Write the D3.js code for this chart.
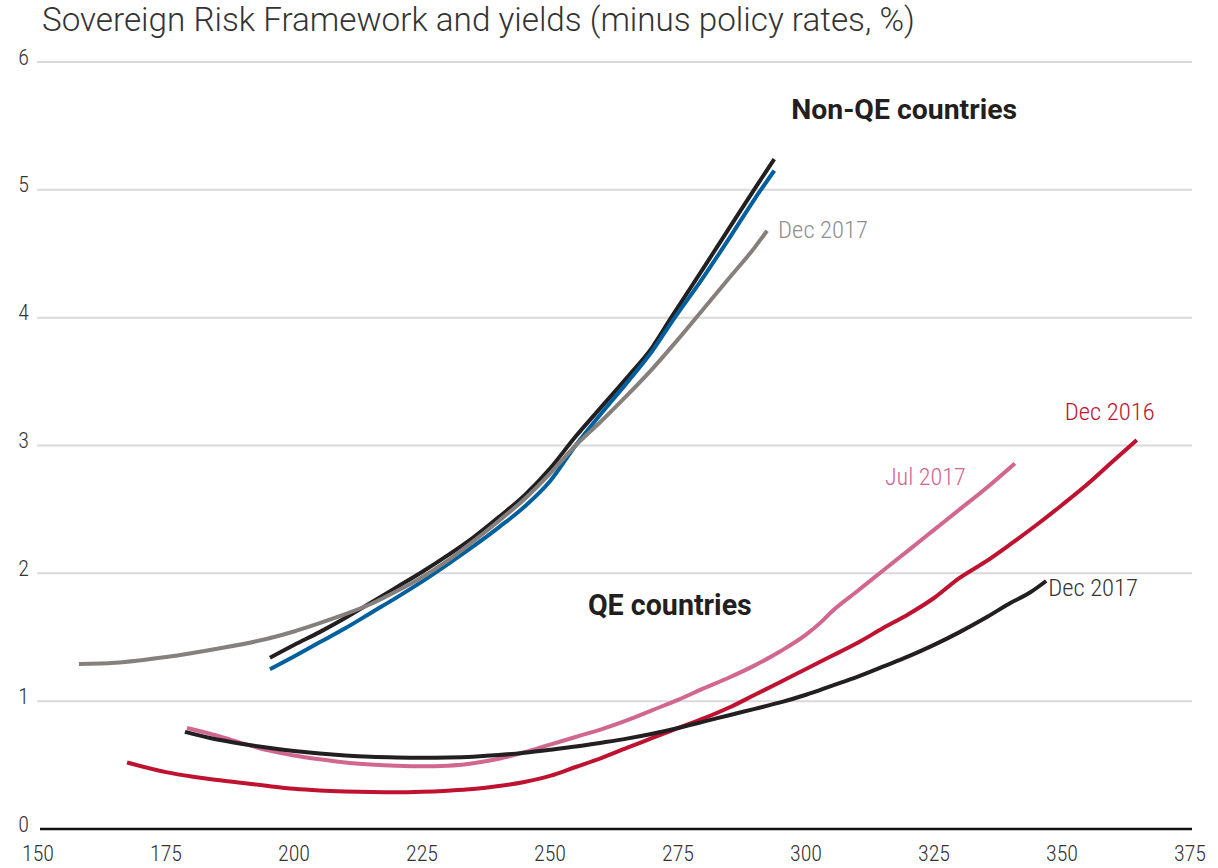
<!DOCTYPE html>
<html>
<head>
<meta charset="utf-8">
<script src="https://cdn.jsdelivr.net/npm/d3@7"></script>
<style>
  html, body { margin: 0; padding: 0; background: #ffffff; }
  svg { display: block; }
  .cond { font-family: Roboto, 'DejaVu Sans', sans-serif; font-weight: 300; font-stretch: condensed; }
  .light { font-family: Roboto, 'DejaVu Sans', sans-serif; font-weight: 300; }
  .heading { font-family: Roboto, 'DejaVu Sans', sans-serif; font-weight: 700; }
</style>
</head>
<body>
<svg id="chart" width="1218" height="868"></svg>
<script>
// Sovereign Risk Framework score (x) against yields minus policy rates (y, %)

const xTicks = [150, 175, 200, 225, 250, 275, 300, 325, 350, 375];
const yTicks = [0, 1, 2, 3, 4, 5, 6];

// Non-QE countries
const nonQeDec2017 = [
  [158, 1.29], [165, 1.30], [175, 1.345], [185, 1.41], [195, 1.49], [200, 1.545],
  [205, 1.61], [210, 1.68], [215, 1.76], [220, 1.86], [225, 1.97], [230, 2.10],
  [235, 2.25], [240, 2.41], [245, 2.58], [250, 2.78], [255, 3.00], [260, 3.19],
  [265, 3.39], [270, 3.60], [275, 3.83], [280, 4.07], [285, 4.31], [290, 4.55],
  [292.4, 4.68]
];
const nonQeBlack = [
  [195.3, 1.34], [200, 1.44], [205, 1.54], [210, 1.65], [215, 1.77], [220, 1.89],
  [225, 2.01], [230, 2.14], [235, 2.28], [240, 2.44], [245, 2.61], [250, 2.82],
  [255, 3.07], [260, 3.30], [265, 3.53], [270, 3.77], [273.5, 3.99], [280, 4.39],
  [285, 4.70], [290, 5.01], [293.8, 5.24]
];
const nonQeBlue = [
  [195.3, 1.25], [200, 1.35], [205, 1.46], [210, 1.57], [215, 1.69], [220, 1.81],
  [225, 1.935], [230, 2.07], [235, 2.21], [240, 2.36], [245, 2.52], [250, 2.72],
  [255, 3.00], [260, 3.25], [265, 3.49], [270, 3.74], [273.5, 3.95], [280, 4.32],
  [285, 4.62], [290, 4.93], [293.8, 5.15]
];

// QE countries
const qeJul2017 = [
  [179.1, 0.79], [185, 0.73], [190, 0.67], [195, 0.615], [200, 0.575], [205, 0.545],
  [210, 0.52], [215, 0.505], [220, 0.495], [225, 0.49], [230, 0.495], [235, 0.515],
  [240, 0.55], [245, 0.60], [250, 0.66], [255, 0.72], [260, 0.78], [265, 0.85],
  [270, 0.93], [275, 1.01], [280, 1.10], [285, 1.185], [290, 1.28], [295, 1.39],
  [300, 1.52], [303, 1.62], [305, 1.70], [310, 1.86], [315, 2.02], [320, 2.18],
  [325, 2.34], [330, 2.50], [335, 2.66], [340.8, 2.86]
];
const qeDec2016 = [
  [167.4, 0.52], [175, 0.445], [180, 0.41], [185, 0.383], [190, 0.36], [195, 0.336],
  [200, 0.315], [205, 0.302], [210, 0.294], [215, 0.289], [220, 0.287], [225, 0.291],
  [230, 0.300], [235, 0.313], [240, 0.336], [245, 0.368], [250, 0.415], [255, 0.485],
  [260, 0.555], [265, 0.634], [270, 0.712], [275, 0.79], [280, 0.865], [285, 0.95],
  [290, 1.05], [295, 1.15], [300, 1.252], [305, 1.353], [310, 1.455], [315, 1.57],
  [320, 1.68], [325, 1.807], [330, 1.964], [335, 2.089], [340, 2.23], [345, 2.378],
  [350, 2.535], [355, 2.699], [360, 2.879], [364.6, 3.043]
];
const qeDec2017 = [
  [178.7, 0.76], [185, 0.70], [190, 0.665], [195, 0.635], [200, 0.61], [205, 0.59],
  [210, 0.575], [215, 0.565], [220, 0.56], [225, 0.558], [230, 0.56], [235, 0.566],
  [240, 0.578], [245, 0.597], [250, 0.62], [255, 0.645], [260, 0.675], [265, 0.707],
  [270, 0.745], [275, 0.79], [280, 0.84], [285, 0.89], [290, 0.94], [295, 0.99],
  [300, 1.05], [305, 1.12], [310, 1.19], [315, 1.27], [320, 1.35], [325, 1.44],
  [330, 1.54], [335, 1.65], [340, 1.77], [343.75, 1.85], [346.9, 1.94]
];

const COLORS = {
  grey: "#85807d",
  greyText: "#8e8e8e",
  black: "#231f20",
  blue: "#00609e",
  pink: "#d1668e",
  red: "#be1230",
  grid: "#d9d9d9",
  text: "#333333"
};

const svg = d3.select("#chart");

const x = d3.scaleLinear().domain([150, 375]).range([38, 1190]);
const y = d3.scaleLinear().domain([0, 6]).range([829, 62]);

// Scale a text element's font size so it spans the given width
function fitWidth(sel, base, width) {
  sel.attr("font-size", base);
  const w = sel.node().getComputedTextLength();
  sel.attr("font-size", base * width / w);
}

// Title
const title = svg.append("text")
  .attr("class", "light")
  .attr("x", 42)
  .attr("y", 31)
  .attr("fill", "#333333")
  .text("Sovereign Risk Framework and yields (minus policy rates, %)");
fitWidth(title, 30, 873);

// Horizontal grid lines
svg.append("g")
  .selectAll("line")
  .data(yTicks.filter(d => d > 0))
  .join("line")
  .attr("x1", 37)
  .attr("x2", 1192)
  .attr("y1", d => y(d))
  .attr("y2", d => y(d))
  .attr("stroke", COLORS.grid)
  .attr("stroke-width", 2);

// y tick labels
svg.append("g")
  .selectAll("text")
  .data(yTicks)
  .join("text")
  .attr("class", "cond")
  .attr("x", 29)
  .attr("y", d => y(d) - 5)
  .attr("text-anchor", "end")
  .attr("dominant-baseline", "central")
  .attr("font-size", 22)
  .attr("fill", COLORS.text)
  .text(d => d);

// x axis baseline and labels
svg.append("line")
  .attr("x1", 40)
  .attr("x2", 1192)
  .attr("y1", y(0))
  .attr("y2", y(0))
  .attr("stroke", "#111111")
  .attr("stroke-width", 2.5);

svg.append("g")
  .selectAll("text")
  .data(xTicks)
  .join("text")
  .attr("class", "cond")
  .attr("x", d => x(d))
  .attr("y", 853)
  .attr("text-anchor", "middle")
  .attr("dominant-baseline", "central")
  .attr("font-size", 22)
  .attr("fill", COLORS.text)
  .text(d => d);

// Curves
const line = d3.line()
  .x(d => x(d[0]))
  .y(d => y(d[1]))
  .curve(d3.curveMonotoneX);

const series = [
  { data: nonQeBlack, color: COLORS.black },
  { data: nonQeBlue, color: COLORS.blue },
  { data: nonQeDec2017, color: COLORS.grey },
  { data: qeJul2017, color: COLORS.pink },
  { data: qeDec2016, color: COLORS.red },
  { data: qeDec2017, color: COLORS.black }
];

svg.append("g")
  .selectAll("path")
  .data(series)
  .join("path")
  .attr("d", d => line(d.data))
  .attr("fill", "none")
  .attr("stroke", d => d.color)
  .attr("stroke-width", 4)
  .attr("stroke-linecap", "butt")
  .attr("stroke-linejoin", "round");

// End-of-line labels
function endPoint(arr) { const p = arr[arr.length - 1]; return [x(p[0]), y(p[1])]; }

const labels = [
  { text: "Dec 2017", at: endPoint(nonQeDec2017), dx: 11, dy: -1, anchor: "start", color: COLORS.greyText, width: 90 },
  { text: "Dec 2016", at: endPoint(qeDec2016), dx: 18, dy: -29, anchor: "end", color: COLORS.red, width: 90 },
  { text: "Jul 2017", at: endPoint(qeJul2017), dx: -49, dy: 14, anchor: "end", color: COLORS.pink, width: 81 },
  { text: "Dec 2017", at: endPoint(qeDec2017), dx: 2, dy: 6, anchor: "start", color: COLORS.text, width: 90 }
];

svg.append("g")
  .selectAll("text")
  .data(labels)
  .join("text")
  .attr("class", "cond")
  .attr("x", d => d.at[0] + d.dx)
  .attr("y", d => d.at[1] + d.dy)
  .attr("text-anchor", d => d.anchor)
  .attr("dominant-baseline", "central")
  .attr("fill", d => d.color)
  .text(d => d.text)
  .each(function (d) { fitWidth(d3.select(this), 24, d.width); });

// Group headings
const groups = [
  { text: "Non-QE countries", xv: 297.1, yv: 5.63, width: 226 },
  { text: "QE countries", xv: 257.4, yv: 1.75, width: 164 }
];
svg.append("g")
  .selectAll("text")
  .data(groups)
  .join("text")
  .attr("class", "heading")
  .attr("x", d => x(d.xv))
  .attr("y", d => y(d.yv))
  .attr("dominant-baseline", "central")
  .attr("fill", COLORS.black)
  .text(d => d.text)
  .each(function (d) { fitWidth(d3.select(this), 24, d.width); });
</script>
</body>
</html>
